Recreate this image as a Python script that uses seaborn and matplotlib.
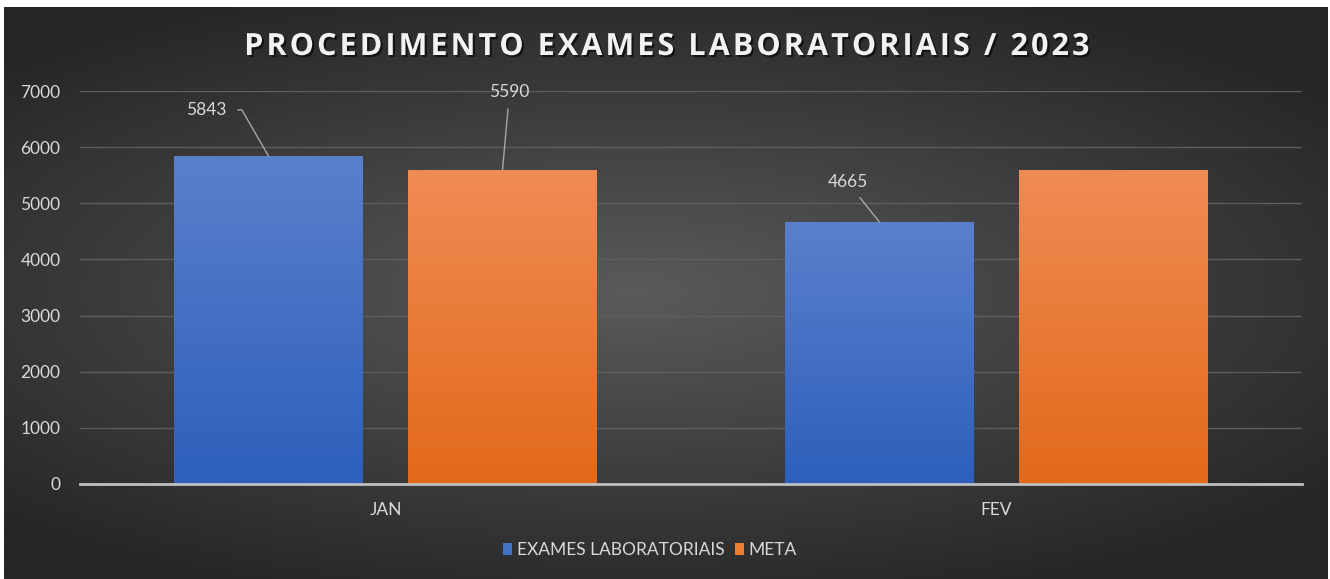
import numpy as np
import pandas as pd
import matplotlib
matplotlib.use("Agg")
import matplotlib.pyplot as plt
import matplotlib.colors as colors
import matplotlib.patheffects as pe
from matplotlib.patches import Patch
import seaborn as sns

# ------------------------------ data ------------------------------
meses = ["JAN", "FEV"]
exames = [5843, 4665]
meta = [5590, 5590]
series = ["EXAMES LABORATORIAIS", "META"]
rotulos = {("EXAMES LABORATORIAIS", "JAN"): "5843",
           ("META", "JAN"): "5590",
           ("EXAMES LABORATORIAIS", "FEV"): "4665"}

df = pd.DataFrame({
    "mes": meses * 2,
    "valor": exames + meta,
    "serie": [series[0]] * len(meses) + [series[1]] * len(meses),
})

sns.set_theme(style="dark")
plt.rcParams["font.family"] = ["Lato", "DejaVu Sans"]

W, H = 1330, 579
fig = plt.figure(figsize=(W / 100, H / 100), dpi=100, facecolor="white")

# ------------------------ background (radial gradient) ------------------------
bg = fig.add_axes([4 / W, 0, 1324 / W, 572 / H], zorder=-5)
yy, xx = np.mgrid[-1:1:300j, -1:1:600j]
r = np.sqrt(((xx + 0.05) / 1.0) ** 2 + (yy / 0.85) ** 2)
bg_cmap = colors.LinearSegmentedColormap.from_list("bg", ["#5a5a5a", "#404040", "#262626"])
bg.imshow(np.clip(r / 1.35, 0, 1), cmap=bg_cmap, aspect="auto", vmin=0, vmax=1)
bg.set_axis_off()

# ------------------------ bars ------------------------
ax = fig.add_axes([80 / W, 1 - 484 / H, 1222 / W, 393 / H])
ax.set_facecolor("none")
pal = {series[0]: "#4472c4", series[1]: "#ed7d31"}
sns.barplot(data=df, x="mes", y="valor", hue="serie", hue_order=series,
            palette=pal, width=0.766, gap=0.196, legend=False, ax=ax,
            saturation=1, linewidth=0, zorder=3)

grads = {
    series[0]: colors.LinearSegmentedColormap.from_list("b", ["#2d5fbb", "#5a80cc"]),
    series[1]: colors.LinearSegmentedColormap.from_list("o", ["#e2691a", "#f08b55"]),
}
offs = {"5843": (-62, 46), "5590": (7, 78), "4665": (-32, 40)}
grad = np.linspace(0, 1, 256).reshape(-1, 1)
for serie, cont in zip(series, ax.containers):
    for mes, bar in zip(meses, cont):
        x0, w, h = bar.get_x(), bar.get_width(), bar.get_height()
        im = ax.imshow(grad, extent=[x0, x0 + w, 0, h], origin="lower",
                       aspect="auto", cmap=grads[serie], zorder=3.5)
        im.set_clip_path(bar)
        txt = rotulos.get((serie, mes))
        if txt is None:
            continue
        cx = x0 + w / 2
        if txt == "5843":
            # leader with a short horizontal hook, like the original
            ap = dict(arrowstyle="-", color="#a6a6a6", lw=1, shrinkA=5.5, shrinkB=0,
                      relpos=(1, 0.5),
                      connectionstyle="angle,angleA=0,angleB=120,rad=0")
        else:
            ap = dict(arrowstyle="-", color="#a6a6a6", lw=1, shrinkA=4, shrinkB=0)
        ax.annotate(txt, xy=(cx, h), xytext=offs[txt], textcoords="offset pixels",
                    ha="center", va="center", fontsize=12.5, color="#d9d9d9",
                    arrowprops=ap, zorder=6)

ax.set_xlim(-0.5, 1.5)
ax.set_ylim(0, 7000)
ax.set_yticks(range(0, 7001, 1000))
ax.yaxis.grid(True, color="#5e5e5e", lw=1)
ax.xaxis.grid(False)
ax.set_axisbelow(True)
for s in ["left", "right", "top"]:
    ax.spines[s].set_visible(False)
ax.spines["bottom"].set_color("#bfbfbf")
ax.spines["bottom"].set_linewidth(2)
ax.spines["bottom"].set_zorder(5)
ax.tick_params(axis="both", length=0, colors="#d9d9d9", labelsize=12.5)
ax.tick_params(axis="y", pad=14)
ax.tick_params(axis="x", pad=13)
ax.set_xlabel("")
ax.set_ylabel("")

# ------------------------ title / legend ------------------------
titulo = "PROCEDIMENTO EXAMES LABORATORIAIS / 2023"
fig.text(0.5, 1 - 47 / H, "\u200a".join(titulo),
         ha="center", va="center", fontsize=22, fontweight="bold",
         color="#f2f2f2", family=["Open Sans", "DejaVu Sans"],
         path_effects=[pe.withSimplePatchShadow(offset=(1.5, -1.5),
                                                shadow_rgbFace="black", alpha=0.6)])

handles = [Patch(facecolor=pal[s], edgecolor="none", label=s) for s in series]
leg = fig.legend(handles=handles, loc="center", bbox_to_anchor=(650 / W, 1 - 550 / H),
                 ncol=2, frameon=False, fontsize=12.5, handlelength=0.5,
                 handleheight=0.7, handletextpad=0.3, columnspacing=0.6)
for t in leg.get_texts():
    t.set_color("#d9d9d9")

fig.savefig("out.png", dpi=100, facecolor="white")
